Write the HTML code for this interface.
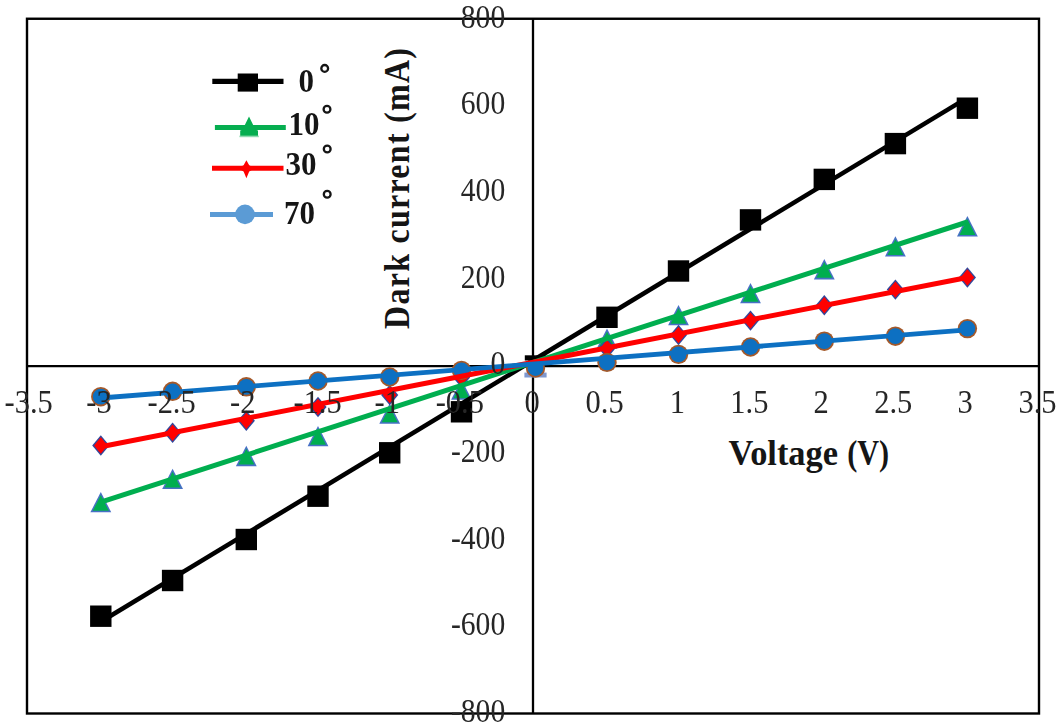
<!DOCTYPE html>
<html><head><meta charset="utf-8"><title>Dark current vs Voltage</title>
<style>html,body{margin:0;padding:0;background:#fff;}body{width:1062px;height:728px;overflow:hidden;font-family:"Liberation Serif",serif;}svg{display:block;}text{font-family:"Liberation Serif",serif;}</style>
</head><body>
<svg width="1062" height="728" viewBox="0 0 1062 728">
<rect x="0" y="0" width="1062" height="728" fill="#ffffff"/>
<defs><filter id="soft" x="-2%" y="-2%" width="104%" height="104%"><feGaussianBlur stdDeviation="0.55"/></filter><filter id="softt" x="-2%" y="-2%" width="104%" height="104%"><feGaussianBlur stdDeviation="0.35"/></filter></defs>
<rect x="27.0" y="18.75" width="1012.0" height="694.75" fill="none" stroke="#000" stroke-width="2.4"/>
<line x1="533.0" y1="18.75" x2="533.0" y2="713.5" stroke="#000" stroke-width="2.3"/>
<line x1="27.0" y1="366.1" x2="1039.0" y2="366.1" stroke="#000" stroke-width="2.3"/>
<g font-size="32" font-weight="bold" fill="#151515">
<text transform="translate(728.5,464.6) scale(1,1.1)" textLength="109.5" lengthAdjust="spacingAndGlyphs">Voltage</text>
<text transform="translate(847.2,464.6) scale(1,1.1)" textLength="42" lengthAdjust="spacingAndGlyphs">(V)</text>
<text transform="translate(408.8,188.5) rotate(-90) scale(1,1.1)" text-anchor="middle" textLength="281" lengthAdjust="spacing">Dark current (mA)</text>
</g>
<g filter="url(#soft)">
<rect x="90.1" y="605.5" width="21.4" height="21.4" fill="#000"/>
<rect x="161.9" y="569.8" width="21.4" height="21.4" fill="#000"/>
<rect x="235.6" y="528.8" width="21.4" height="21.4" fill="#000"/>
<rect x="307.3" y="485.5" width="21.4" height="21.4" fill="#000"/>
<rect x="379.0" y="442.1" width="21.4" height="21.4" fill="#000"/>
<rect x="450.8" y="401.1" width="21.4" height="21.4" fill="#000"/>
<rect x="524.8" y="355.3" width="21.4" height="5.2" fill="#000"/>
<rect x="596.3" y="306.6" width="21.4" height="21.4" fill="#000"/>
<rect x="667.8" y="260.3" width="21.4" height="21.4" fill="#000"/>
<rect x="739.8" y="209.2" width="21.4" height="21.4" fill="#000"/>
<rect x="813.6" y="168.7" width="21.4" height="21.4" fill="#000"/>
<rect x="884.7" y="132.9" width="21.4" height="21.4" fill="#000"/>
<rect x="956.7" y="97.5" width="21.4" height="21.4" fill="#000"/>
<polygon points="100.8,491.9 111.2,512.3 90.4,512.3" fill="#4770c6"/>
<polygon points="100.8,494.9 108.8,510.7 92.8,510.7" fill="#06ae50"/>
<polygon points="172.6,468.7 183.0,489.1 162.2,489.1" fill="#4770c6"/>
<polygon points="172.6,471.7 180.6,487.5 164.6,487.5" fill="#06ae50"/>
<polygon points="246.3,445.8 256.7,466.2 235.9,466.2" fill="#4770c6"/>
<polygon points="246.3,448.8 254.3,464.6 238.3,464.6" fill="#06ae50"/>
<polygon points="318.0,425.9 328.4,446.3 307.6,446.3" fill="#4770c6"/>
<polygon points="318.0,428.9 326.0,444.7 310.0,444.7" fill="#06ae50"/>
<polygon points="389.7,403.4 400.1,423.8 379.3,423.8" fill="#4770c6"/>
<polygon points="389.7,406.4 397.7,422.2 381.7,422.2" fill="#06ae50"/>
<polygon points="461.5,379.4 471.9,399.8 451.1,399.8" fill="#4770c6"/>
<polygon points="461.5,382.4 469.5,398.2 453.5,398.2" fill="#06ae50"/>
<polygon points="535.5,356.0 545.9,376.4 525.1,376.4" fill="#4770c6"/>
<polygon points="535.5,359.0 543.5,374.8 527.5,374.8" fill="#06ae50"/>
<polygon points="607.0,328.4 617.4,348.8 596.6,348.8" fill="#4770c6"/>
<polygon points="607.0,331.4 615.0,347.2 599.0,347.2" fill="#06ae50"/>
<polygon points="678.5,304.9 688.9,325.3 668.1,325.3" fill="#4770c6"/>
<polygon points="678.5,307.9 686.5,323.7 670.5,323.7" fill="#06ae50"/>
<polygon points="750.5,282.9 760.9,303.3 740.1,303.3" fill="#4770c6"/>
<polygon points="750.5,285.9 758.5,301.7 742.5,301.7" fill="#06ae50"/>
<polygon points="824.3,259.0 834.7,279.4 813.9,279.4" fill="#4770c6"/>
<polygon points="824.3,262.0 832.3,277.8 816.3,277.8" fill="#06ae50"/>
<polygon points="895.4,236.2 905.8,256.6 885.0,256.6" fill="#4770c6"/>
<polygon points="895.4,239.2 903.4,255.0 887.4,255.0" fill="#06ae50"/>
<polygon points="967.4,216.1 977.8,236.5 957.0,236.5" fill="#4770c6"/>
<polygon points="967.4,219.1 975.4,234.9 959.4,234.9" fill="#06ae50"/>
<polygon points="100.8,435.3 109.4,445.5 100.8,455.7 92.2,445.5" fill="#31479b"/>
<polygon points="100.8,437.3 107.6,445.5 100.8,453.7 94.0,445.5" fill="#ff0000"/>
<polygon points="172.6,422.6 181.2,432.8 172.6,443.0 164.0,432.8" fill="#31479b"/>
<polygon points="172.6,424.6 179.4,432.8 172.6,441.0 165.8,432.8" fill="#ff0000"/>
<polygon points="246.3,410.6 254.9,420.8 246.3,431.0 237.7,420.8" fill="#31479b"/>
<polygon points="246.3,412.6 253.1,420.8 246.3,429.0 239.5,420.8" fill="#ff0000"/>
<polygon points="318.0,396.8 326.6,407.0 318.0,417.2 309.4,407.0" fill="#31479b"/>
<polygon points="318.0,398.8 324.8,407.0 318.0,415.2 311.2,407.0" fill="#ff0000"/>
<polygon points="389.7,384.8 398.3,395.0 389.7,405.2 381.1,395.0" fill="#31479b"/>
<polygon points="389.7,386.8 396.5,395.0 389.7,403.2 382.9,395.0" fill="#ff0000"/>
<polygon points="461.5,367.3 470.1,377.5 461.5,387.7 452.9,377.5" fill="#31479b"/>
<polygon points="461.5,369.3 468.3,377.5 461.5,385.7 454.7,377.5" fill="#ff0000"/>
<polygon points="535.5,356.8 544.1,367.0 535.5,377.2 526.9,367.0" fill="#31479b"/>
<polygon points="535.5,358.8 542.3,367.0 535.5,375.2 528.7,367.0" fill="#ff0000"/>
<polygon points="607.0,338.0 615.6,348.2 607.0,358.4 598.4,348.2" fill="#31479b"/>
<polygon points="607.0,340.0 613.8,348.2 607.0,356.4 600.2,348.2" fill="#ff0000"/>
<polygon points="678.5,324.8 687.1,335.0 678.5,345.2 669.9,335.0" fill="#31479b"/>
<polygon points="678.5,326.8 685.3,335.0 678.5,343.2 671.7,335.0" fill="#ff0000"/>
<polygon points="750.5,310.4 759.1,320.6 750.5,330.8 741.9,320.6" fill="#31479b"/>
<polygon points="750.5,312.4 757.3,320.6 750.5,328.8 743.7,320.6" fill="#ff0000"/>
<polygon points="824.3,295.1 832.9,305.3 824.3,315.5 815.7,305.3" fill="#31479b"/>
<polygon points="824.3,297.1 831.1,305.3 824.3,313.5 817.5,305.3" fill="#ff0000"/>
<polygon points="895.4,279.4 904.0,289.6 895.4,299.8 886.8,289.6" fill="#31479b"/>
<polygon points="895.4,281.4 902.2,289.6 895.4,297.8 888.6,289.6" fill="#ff0000"/>
<polygon points="967.4,267.3 976.0,277.5 967.4,287.7 958.8,277.5" fill="#31479b"/>
<polygon points="967.4,269.3 974.2,277.5 967.4,285.7 960.6,277.5" fill="#ff0000"/>
<rect x="524.4" y="372.6" width="22.2" height="4.9" fill="#7f98cf"/>
<circle cx="100.8" cy="396.7" r="9.7" fill="#a4592a"/>
<circle cx="100.8" cy="396.7" r="7.9" fill="#0a70c2"/>
<circle cx="172.6" cy="391.3" r="9.7" fill="#a4592a"/>
<circle cx="172.6" cy="391.3" r="7.9" fill="#0a70c2"/>
<circle cx="246.3" cy="386.8" r="9.7" fill="#a4592a"/>
<circle cx="246.3" cy="386.8" r="7.9" fill="#0a70c2"/>
<circle cx="318.0" cy="381.0" r="9.7" fill="#a4592a"/>
<circle cx="318.0" cy="381.0" r="7.9" fill="#0a70c2"/>
<circle cx="389.7" cy="377.0" r="9.7" fill="#a4592a"/>
<circle cx="389.7" cy="377.0" r="7.9" fill="#0a70c2"/>
<circle cx="461.5" cy="370.4" r="9.7" fill="#a4592a"/>
<circle cx="461.5" cy="370.4" r="7.9" fill="#0a70c2"/>
<circle cx="535.5" cy="368.0" r="9.7" fill="#a4592a"/>
<circle cx="535.5" cy="368.0" r="7.9" fill="#0a70c2"/>
<circle cx="607.0" cy="362.4" r="9.7" fill="#a4592a"/>
<circle cx="607.0" cy="362.4" r="7.9" fill="#0a70c2"/>
<circle cx="678.5" cy="354.4" r="9.7" fill="#a4592a"/>
<circle cx="678.5" cy="354.4" r="7.9" fill="#0a70c2"/>
<circle cx="750.5" cy="347.0" r="9.7" fill="#a4592a"/>
<circle cx="750.5" cy="347.0" r="7.9" fill="#0a70c2"/>
<circle cx="824.3" cy="341.2" r="9.7" fill="#a4592a"/>
<circle cx="824.3" cy="341.2" r="7.9" fill="#0a70c2"/>
<circle cx="895.4" cy="336.2" r="9.7" fill="#a4592a"/>
<circle cx="895.4" cy="336.2" r="7.9" fill="#0a70c2"/>
<circle cx="967.4" cy="328.6" r="9.7" fill="#a4592a"/>
<circle cx="967.4" cy="328.6" r="7.9" fill="#0a70c2"/>
<line x1="100.8" y1="621.7" x2="961" y2="101.6" stroke="#000" stroke-width="4.6"/>
<line x1="100.8" y1="502.1" x2="967.4" y2="222.0" stroke="#06ae50" stroke-width="5.0"/>
<line x1="100.8" y1="446.7" x2="967.4" y2="277.5" stroke="#ff0000" stroke-width="5.0"/>
<line x1="100.8" y1="398.0" x2="967.4" y2="329.9" stroke="#0a70c2" stroke-width="4.8"/>
</g>
<g font-size="29.6" fill="#262626" filter="url(#softt)">
<text transform="translate(505.2,27.5) scale(1,1.17)" text-anchor="end">800</text>
<text transform="translate(505.2,114.4) scale(1,1.17)" text-anchor="end">600</text>
<text transform="translate(505.2,201.2) scale(1,1.17)" text-anchor="end">400</text>
<text transform="translate(505.2,288.1) scale(1,1.17)" text-anchor="end">200</text>
<text transform="translate(505.2,461.7) scale(1,1.17)" text-anchor="end">-200</text>
<text transform="translate(505.2,548.6) scale(1,1.17)" text-anchor="end">-400</text>
<text transform="translate(505.2,635.4) scale(1,1.17)" text-anchor="end">-600</text>
<text transform="translate(505.2,722.3) scale(1,1.17)" text-anchor="end">-800</text>
<text transform="translate(505.2,373.9) scale(1,1.17)" text-anchor="end">0</text>
<text transform="translate(28.7,413.4) scale(1.03,1.17)" text-anchor="middle">-3.5</text>
<text transform="translate(99.0,413.4) scale(1.03,1.17)" text-anchor="middle">-3</text>
<text transform="translate(171.6,413.4) scale(1.03,1.17)" text-anchor="middle">-2.5</text>
<text transform="translate(242.8,413.4) scale(1.03,1.17)" text-anchor="middle">-2</text>
<text transform="translate(317.6,413.4) scale(1.03,1.17)" text-anchor="middle">-1.5</text>
<text transform="translate(387.2,413.4) scale(1.03,1.17)" text-anchor="middle">-1</text>
<text transform="translate(459.8,413.4) scale(1.03,1.17)" text-anchor="middle">-0.5</text>
<text transform="translate(532.0,413.4) scale(1.03,1.17)" text-anchor="middle">0</text>
<text transform="translate(604.6,413.4) scale(1.03,1.17)" text-anchor="middle">0.5</text>
<text transform="translate(677.3,413.4) scale(1.03,1.17)" text-anchor="middle">1</text>
<text transform="translate(749.4,413.4) scale(1.03,1.17)" text-anchor="middle">1.5</text>
<text transform="translate(821.2,413.4) scale(1.03,1.17)" text-anchor="middle">2</text>
<text transform="translate(893.2,413.4) scale(1.03,1.17)" text-anchor="middle">2.5</text>
<text transform="translate(965.2,413.4) scale(1.03,1.17)" text-anchor="middle">3</text>
<text transform="translate(1037.5,413.4) scale(1.03,1.17)" text-anchor="middle">3.5</text>
</g>
<line x1="212.3" y1="81.4" x2="283.5" y2="81.4" stroke="#000" stroke-width="5.3"/>
<rect x="237.7" y="73.5" width="20.3" height="18.1" fill="#000"/>
<line x1="214.9" y1="127.5" x2="285.8" y2="127.5" stroke="#06ae50" stroke-width="5.1"/>
<polygon points="249,116.6 255.5,129.8 258,130.4 258,135.7 240.2,135.7 240.2,130.4 242.5,129.8" fill="#06ae50"/>
<rect x="239.4" y="135.6" width="19.4" height="1.6" fill="#06ae50" opacity="0.45"/>
<line x1="212" y1="168.2" x2="283.5" y2="168.2" stroke="#ff0000" stroke-width="5.0"/>
<polygon points="246.4,160.2 249.2,165.2 254.8,168.2 249.2,171.4 246.4,178.2 243.6,171.4 238,168.2 243.6,165.2" fill="#ff0000"/>
<line x1="210" y1="214.4" x2="273" y2="214.4" stroke="#5b9bd5" stroke-width="5.0"/>
<circle cx="245" cy="214.4" r="9.8" fill="#5b9bd5"/>
<g font-size="31" font-weight="bold" fill="#151515">
<text transform="translate(298.5,91.8) scale(1,1.08)">0</text>
<text transform="translate(288.5,134.8) scale(1,1.08)">10</text>
<text transform="translate(285.5,174.8) scale(1,1.08)">30</text>
<text transform="translate(284,224.3) scale(1,1.08)">70</text>
</g>
<circle cx="324.7" cy="68.4" r="3.4" fill="none" stroke="#151515" stroke-width="2.3"/>
<circle cx="327.0" cy="109.2" r="3.4" fill="none" stroke="#151515" stroke-width="2.3"/>
<circle cx="327.2" cy="149" r="3.4" fill="none" stroke="#151515" stroke-width="2.3"/>
<circle cx="327.2" cy="194.2" r="3.4" fill="none" stroke="#151515" stroke-width="2.3"/>
</svg>
</body></html>
